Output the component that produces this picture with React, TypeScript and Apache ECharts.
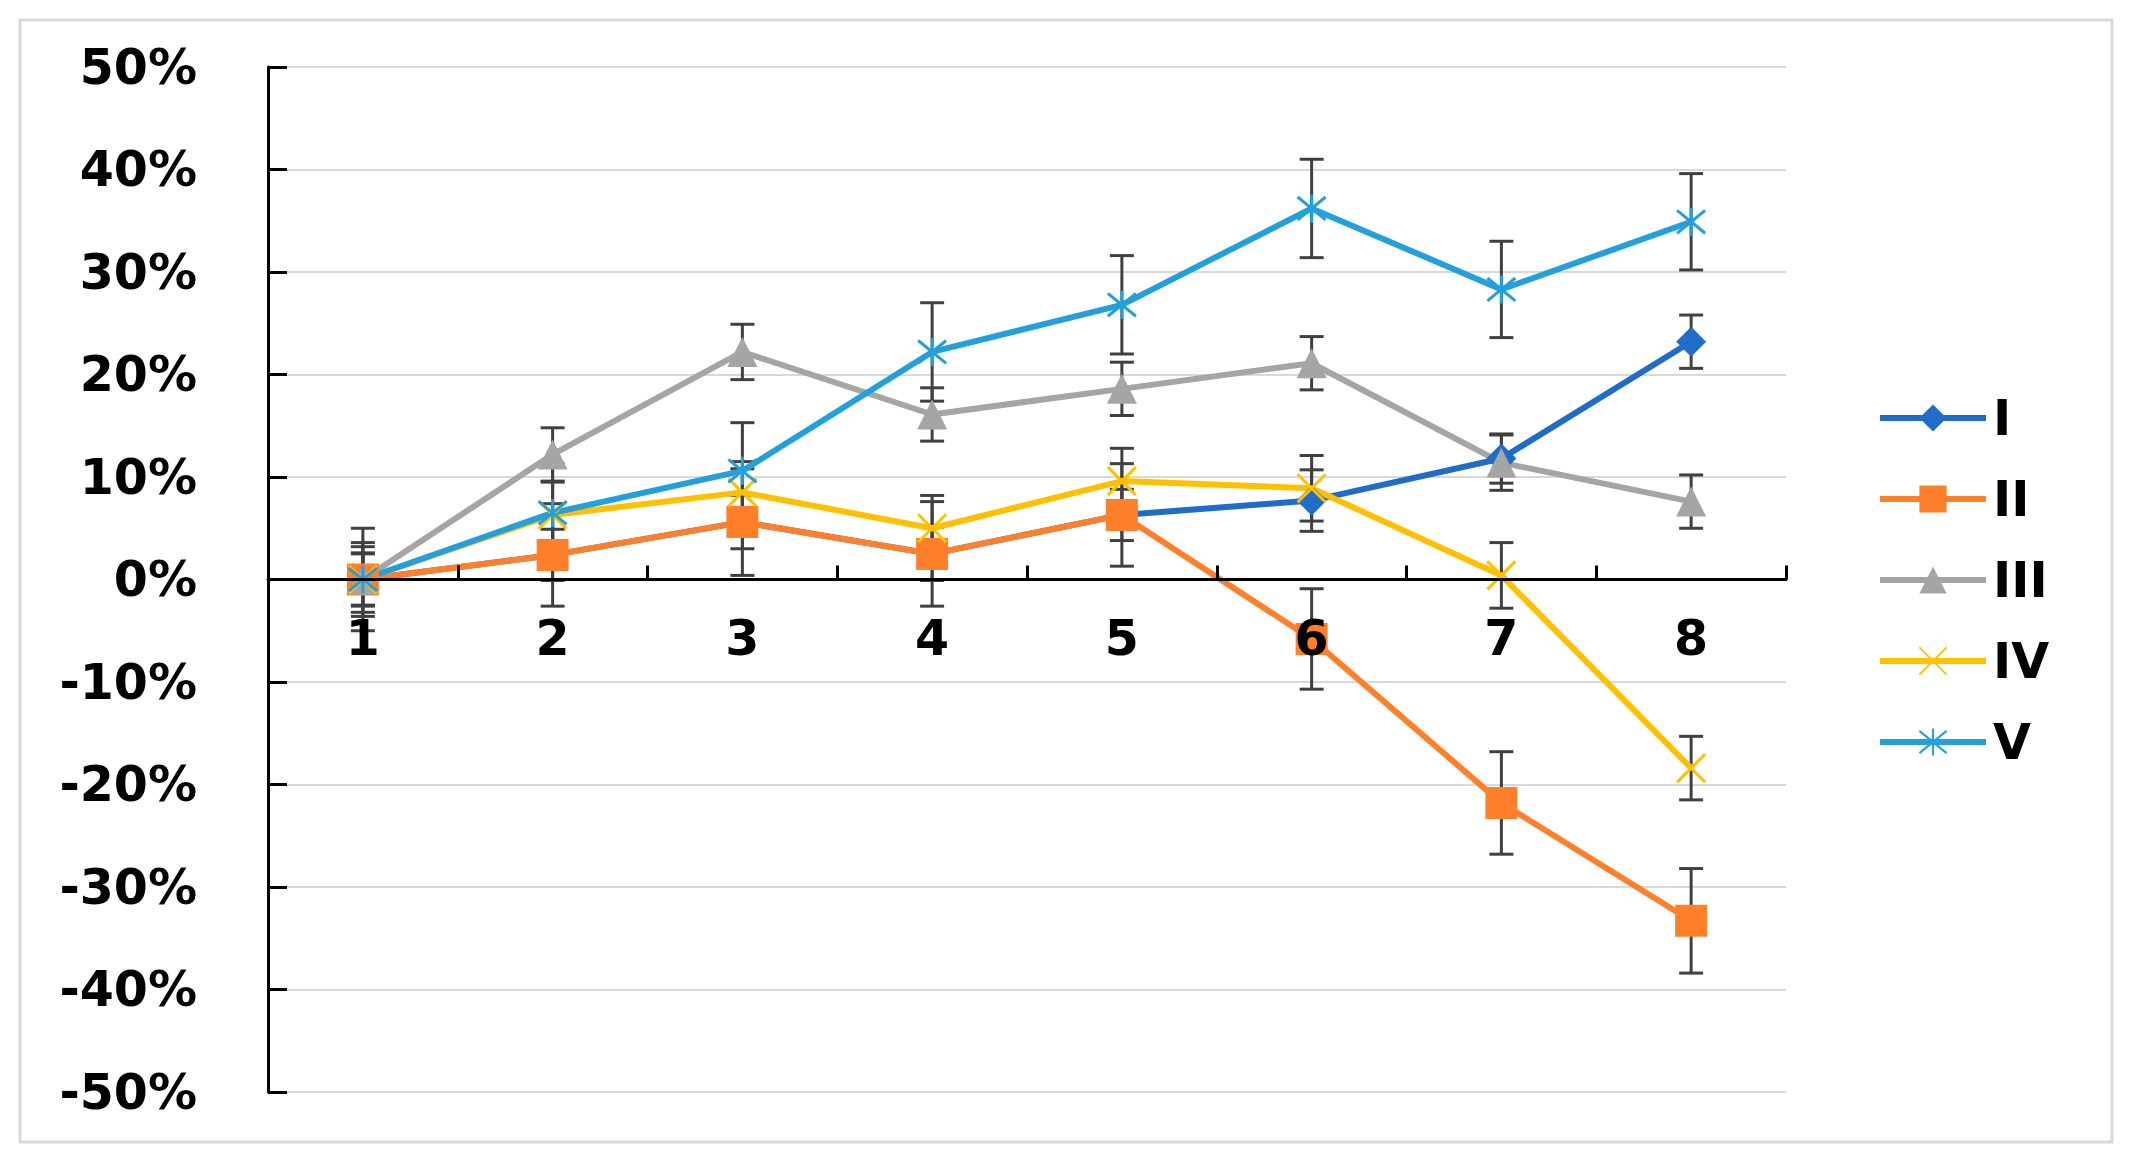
import React, { useEffect, useRef } from "react";
import * as echarts from "echarts";

const categories = ["1", "2", "3", "4", "5", "6", "7", "8"];
const seriesNames = ["I", "II", "III", "IV", "V"];

const valuesI = [0, 2.4, 5.6, 2.5, 6.3, 7.7, 11.8, 23.2];
const errorsI = [5.0, 5.0, 5.2, 5.1, 5.0, 3.0, 2.4, 2.6];
const valuesII = [0, 2.4, 5.6, 2.5, 6.3, -5.8, -21.8, -33.3];
const errorsII = [2.5, 2.5, 2.6, 2.6, 2.5, 4.9, 5.0, 5.1];
const valuesIII = [0, 12.2, 22.2, 16.1, 18.6, 21.1, 11.4, 7.6];
const errorsIII = [2.6, 2.6, 2.7, 2.6, 2.6, 2.6, 2.7, 2.6];
const valuesIV = [0, 6.3, 8.5, 5.0, 9.6, 8.9, 0.4, -18.4];
const errorsIV = [3.2, 3.2, 3.0, 3.2, 3.2, 3.2, 3.2, 3.1];
const valuesV = [0, 6.5, 10.6, 22.2, 26.8, 36.2, 28.3, 34.9];
const errorsV = [3.6, 4.8, 4.7, 4.8, 4.8, 4.8, 4.7, 4.7];

const yTicks = { min: -50, max: 50, interval: 10 };

const colors = ["#1F6DC8", "#FF7F2A", "#A5A5A5", "#FFC000", "#23A0DC"];
const FONT = "DejaVu Sans";

const X_PATH = "path://M0,0L20,20M20,0L0,20";
const STAR_PATH = "path://M0,1L20,19M20,1L0,19M10,-1L10,21";

const GRID_TOP = 67;
const GRID_BOTTOM = 73;
const CHART_H = 1165;

export default function App() {
  const ref = useRef<HTMLDivElement>(null);

  useEffect(() => {
    if (!ref.current) return;
    const chart = echarts.init(ref.current, null, { renderer: "svg" });

    const allValues = [valuesI, valuesII, valuesIII, valuesIV, valuesV];
    const allErrors = [errorsI, errorsII, errorsIII, errorsIV, errorsV];
    const symbols = ["diamond", "rect", "triangle", X_PATH, STAR_PATH];
    const symbolSizes = [30, 32, 30, 28, 28];

    const errorSeries = allValues.map((vals, si) => ({
      type: "custom",
      name: "err" + seriesNames[si],
      z: 1,
      silent: true,
      encode: { x: 0, y: [1, 2] },
      data: vals.map((v, i) => [i, v - allErrors[si][i], v + allErrors[si][i]]),
      renderItem: (params: any, api: any) => {
        const idx = api.value(0);
        const lo = api.coord([idx, api.value(1)]);
        const hi = api.coord([idx, api.value(2)]);
        const half = 12;
        const style = { stroke: "#404040", lineWidth: 3 };
        return {
          type: "group",
          children: [
            { type: "line", shape: { x1: hi[0], y1: hi[1], x2: lo[0], y2: lo[1] }, style },
            { type: "line", shape: { x1: hi[0] - half, y1: hi[1], x2: hi[0] + half, y2: hi[1] }, style },
            { type: "line", shape: { x1: lo[0] - half, y1: lo[1], x2: lo[0] + half, y2: lo[1] }, style },
          ],
        };
      },
    }));

    const lineSeries = allValues.map((vals, si) => {
      const isPath = si >= 3;
      return {
        type: "line",
        name: seriesNames[si],
        z: 2,
        data: vals,
        symbol: symbols[si],
        symbolSize: symbolSizes[si],
        showAllSymbol: true,
        lineStyle: { color: colors[si], width: 6 },
        itemStyle: isPath
          ? { color: colors[si], borderColor: colors[si], borderWidth: 3 }
          : { color: colors[si], borderColor: colors[si], borderWidth: 0 },
        emphasis: { disabled: true },
      };
    });

    const labelStyle = {
      color: "#000",
      fontFamily: FONT,
      fontWeight: "bold" as const,
      fontSize: 49,
    };

    // pixel distance from grid bottom up to the zero line
    const plotH = CHART_H - GRID_TOP - GRID_BOTTOM;
    const zeroOffset = -plotH * ((0 - yTicks.min) / (yTicks.max - yTicks.min));

    chart.setOption({
      animation: false,
      backgroundColor: "#fff",
      graphic: [
        {
          type: "rect",
          shape: { x: 20, y: 20, width: 2092, height: 1122 },
          style: { fill: "none", stroke: "#D9D9D9", lineWidth: 3 },
          z: -1,
        },
      ],
      grid: { left: 268, right: 346, top: GRID_TOP, bottom: GRID_BOTTOM, containLabel: false },
      legend: {
        data: seriesNames,
        orient: "vertical",
        left: 1872,
        top: 388,
        itemWidth: 106,
        itemHeight: 34,
        itemGap: 31,
        lineStyle: { width: 6 },
        textStyle: { ...labelStyle, lineHeight: 50, padding: [0, 0, 0, 2] },
        selectedMode: false,
      },
      xAxis: {
        type: "category",
        data: categories,
        boundaryGap: true,
        position: "bottom",
        offset: zeroOffset,
        z: 10,
        axisLine: { show: true, onZero: false, lineStyle: { color: "#000", width: 3 } },
        axisTick: { show: true, inside: true, length: 14, lineStyle: { color: "#000", width: 3 } },
        axisLabel: { ...labelStyle, margin: 34 },
        splitLine: { show: false },
      },
      yAxis: {
        type: "value",
        min: yTicks.min,
        max: yTicks.max,
        interval: yTicks.interval,
        axisLine: { show: true, lineStyle: { color: "#000", width: 3 } },
        axisTick: { show: true, inside: true, length: 19, lineStyle: { color: "#000", width: 3 } },
        axisLabel: { ...labelStyle, margin: 71, formatter: "{value}%" },
        splitLine: { show: true, lineStyle: { color: "#D9D9D9", width: 2 } },
      },
      series: [...errorSeries, ...lineSeries],
    });

    return () => chart.dispose();
  }, []);

  return (
    <div
      ref={ref}
      style={{ position: "fixed", left: 0, top: 0, width: 2132, height: 1165, background: "#fff" }}
    />
  );
}
